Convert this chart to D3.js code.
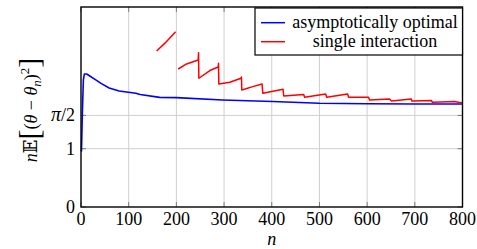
<!DOCTYPE html>
<html>
<head>
<meta charset="utf-8">
<script src="https://cdn.jsdelivr.net/npm/d3@7"></script>
<style>
  body { margin: 0; background: #fff; }
  svg { display: block; }
  svg text { font-family: "Liberation Serif", "DejaVu Serif", serif; }
</style>
</head>
<body>
<div id="chart"></div>
<script>
// asymptotically optimal (blue)
const blueN = [1, 3, 5, 7, 12, 16, 31, 42, 59, 80, 115, 124, 165, 200, 297, 402, 500, 600, 700, 800];
const blueV = [0.95, 1.66, 2.18, 2.28, 2.28, 2.26, 2.18, 2.12, 2.04, 1.99, 1.95, 1.93, 1.88, 1.875, 1.835, 1.81, 1.78, 1.77, 1.767, 1.767];

// single interaction (red), null = gap
const redN = [158.5, 176, 198.3, null, 203.8, 221.4, 245.7, 246.5, 247.1, 270.2, 287.6, 288.4, 289,
  312, 335.7, 336.5, 337.2, 360.2, 379.7, 381.2, 423.7, 425.1, 467, 469, 513, 515.2, 559, 561.3,
  603, 605, 647, 651, 692.6, 693.8, 734.5, 737, 783, 800];
const redV = [2.676, 2.81, 3.007, null, 2.367, 2.453, 2.521, 2.647, 2.208, 2.34, 2.40, 2.465, 2.11,
  2.14, 2.208, 2.23, 2.007, 2.064, 2.11, 1.95, 2.019, 1.904, 1.93, 1.882, 1.938, 1.882, 1.938, 1.882,
  1.882, 1.835, 1.852, 1.818, 1.852, 1.818, 1.827, 1.796, 1.81, 1.784];

const xTicks = [0, 100, 200, 300, 400, 500, 600, 700, 800];
const yTicks = [0, 1, Math.PI / 2];
const yTickLabels = ["0", "1", "\u03c0/2"];
const legendLabels = ["asymptotically optimal", "single interaction"];

const W = 477, H = 249;
const mLeft = 81, mRight = 462.5, mTop = 7, mBottom = 207;

const svg = d3.select("#chart").append("svg")
  .attr("width", W).attr("height", H);

const x = d3.scaleLinear().domain([0, 800]).range([mLeft, mRight]);
const y = d3.scaleLinear().domain([0, 3.43]).range([mBottom, mTop]);

// grid
svg.append("g").selectAll("line")
  .data(xTicks.slice(1, -1)).enter().append("line")
  .attr("x1", d => x(d)).attr("x2", d => x(d))
  .attr("y1", mTop).attr("y2", mBottom)
  .attr("stroke", "#cfcfcf").attr("stroke-width", 1);
svg.append("g").selectAll("line")
  .data(yTicks.slice(1)).enter().append("line")
  .attr("x1", mLeft).attr("x2", mRight)
  .attr("y1", d => y(d)).attr("y2", d => y(d))
  .attr("stroke", "#cfcfcf").attr("stroke-width", 1);

// ticks (inside)
const tk = svg.append("g").attr("stroke", "#666").attr("stroke-width", 0.8);
xTicks.forEach(d => {
  tk.append("line").attr("x1", x(d)).attr("x2", x(d)).attr("y1", mBottom).attr("y2", mBottom - 5);
  tk.append("line").attr("x1", x(d)).attr("x2", x(d)).attr("y1", mTop).attr("y2", mTop + 5);
});
yTicks.forEach(d => {
  tk.append("line").attr("x1", mLeft).attr("x2", mLeft + 5).attr("y1", y(d)).attr("y2", y(d));
  tk.append("line").attr("x1", mRight).attr("x2", mRight - 5).attr("y1", y(d)).attr("y2", y(d));
});

// lines
const line = d3.line()
  .defined(d => d[0] !== null)
  .x(d => x(d[0])).y(d => y(d[1]));

svg.append("path")
  .datum(blueN.map((n, i) => [n, blueV[i]]))
  .attr("d", line)
  .attr("fill", "none").attr("stroke", "#0000ff").attr("stroke-width", 1.6)
  .attr("stroke-linejoin", "round");

svg.append("path")
  .datum(redN.map((n, i) => [n, redV[i]]))
  .attr("d", line)
  .attr("fill", "none").attr("stroke", "#ff0000").attr("stroke-width", 1.5)
  .attr("stroke-linejoin", "round");

// frame
svg.append("rect")
  .attr("x", mLeft).attr("y", mTop)
  .attr("width", mRight - mLeft).attr("height", mBottom - mTop)
  .attr("fill", "none").attr("stroke", "#000").attr("stroke-width", 1.4);

// tick labels
svg.append("g").selectAll("text")
  .data(xTicks).enter().append("text")
  .attr("x", d => x(d)).attr("y", 225)
  .attr("text-anchor", "middle")
  .attr("font-size", 18)
  .text(d => d);

const yt = svg.append("g").selectAll("text")
  .data(yTicks).enter().append("text")
  .attr("x", 75).attr("y", d => y(d) + 6)
  .attr("text-anchor", "end")
  .attr("font-size", 18);
yt.each(function (d, i) {
  const t = d3.select(this);
  const lab = yTickLabels[i];
  if (lab.startsWith("\u03c0")) {
    t.append("tspan").attr("font-style", "italic").attr("font-size", 20).text("\u03c0");
    t.append("tspan").text(lab.slice(1));
  } else {
    t.text(lab);
  }
});

// axis labels
svg.append("text")
  .attr("x", (mLeft + mRight) / 2).attr("y", 245)
  .attr("text-anchor", "middle")
  .attr("font-size", 18).attr("font-style", "italic")
  .text("n");

const yl = svg.append("text")
  .attr("transform", "translate(37,110) rotate(-90)")
  .attr("text-anchor", "middle")
  .attr("font-size", 18);
yl.append("tspan").attr("font-style", "italic").text("n");
yl.append("tspan").text("\ud835\udd3c");
yl.append("tspan").attr("font-size", 30).attr("dy", 2).text("[");
yl.append("tspan").attr("dy", -2).text("(");
yl.append("tspan").attr("font-style", "italic").text("\u03b8");
yl.append("tspan").text(" \u2212 ");
yl.append("tspan").attr("font-style", "italic").text("\u03b8");
yl.append("tspan").attr("font-style", "italic").attr("font-size", 13).attr("dy", 4).text("n");
yl.append("tspan").attr("dy", -4).text(")");
yl.append("tspan").attr("font-size", 13).attr("dy", -8).text("2");
yl.append("tspan").attr("font-size", 30).attr("dy", 10).text("]");

// legend
const lg = svg.append("g");
lg.append("rect")
  .attr("x", 255).attr("y", 8).attr("width", mRight - 255).attr("height", 47)
  .attr("fill", "#fff").attr("stroke", "#000").attr("stroke-width", 1.2);
const colors = ["#0000ff", "#ff0000"];
legendLabels.forEach((lab, i) => {
  const yy = 22.7 + i * 19;
  lg.append("line")
    .attr("x1", 261).attr("x2", 285).attr("y1", yy).attr("y2", yy)
    .attr("stroke", colors[i]).attr("stroke-width", 1.5);
  lg.append("text")
    .attr("x", 375).attr("y", yy + 5)
    .attr("text-anchor", "middle")
    .attr("font-size", 18)
    .text(lab);
});
</script>
</body>
</html>
